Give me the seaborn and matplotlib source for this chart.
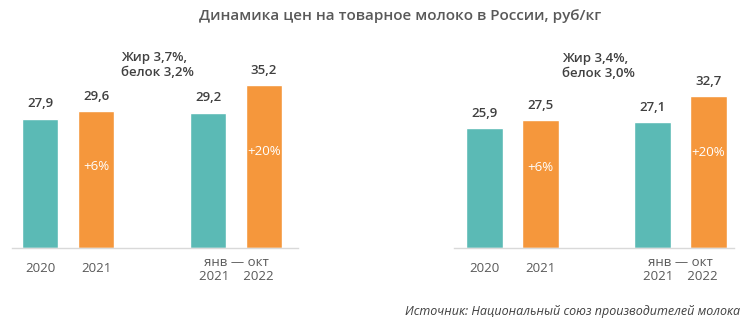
import matplotlib
matplotlib.use("Agg")
import matplotlib.pyplot as plt
import seaborn as sns
import pandas as pd

sns.set_theme(style="white")
plt.rcParams['font.family'] = ['Open Sans', 'DejaVu Sans']

# ---- data ----
positions = [0, 1, 3, 4]
groups = ["base", "cur", "base", "cur"]
left_values = [27.9, 29.6, 29.2, 35.2]
right_values = [25.9, 27.5, 27.1, 32.7]
left_growth = ["+6%", "+20%"]
right_growth = ["+6%", "+20%"]
tick_labels = ["2020", "2021"]
period_label = "янв — окт\n2021    2022"
left_note = "Жир 3,7%,\nбелок 3,2%"
right_note = "Жир 3,4%,\nбелок 3,0%"
title = "Динамика цен на товарное молоко в России, руб/кг"
source = "Источник: Национальный союз производителей молока"

TEAL = "#5BBAB5"
ORANGE = "#F5973C"
TXT = "#404040"
GRAY = "#595959"

W, H = 751, 321
fig = plt.figure(figsize=(W / 100, H / 100), dpi=100)

def fx(px):
    return px / W

def fy(py):
    return 1 - py / H

scale = 4.64  # px per unit
ymax = 40
ax_h = ymax * scale
base_px = 248

def make_panel(left_px, xlim, values, growth, frac):
    width_px = (xlim[1] - xlim[0]) * 56
    ax = fig.add_axes([fx(left_px), fy(base_px), fx(width_px), ax_h / H])
    df = pd.DataFrame({"pos": positions, "val": values, "grp": groups})
    sns.barplot(data=df, x="pos", y="val", hue="grp",
                palette={"base": TEAL, "cur": ORANGE},
                native_scale=True, width=0.66, dodge=False,
                legend=False, ax=ax, saturation=1)
    ax.set_xlim(*xlim)
    ax.set_ylim(0, ymax)
    for s in ["top", "right", "left"]:
        ax.spines[s].set_visible(False)
    ax.spines["bottom"].set_color("#D9D9D9")
    ax.spines["bottom"].set_linewidth(1.0)
    ax.set_yticks([])
    ax.set_xlabel("")
    ax.set_ylabel("")
    ax.set_xticks([0, 1])
    ax.set_xticklabels(tick_labels, fontsize=9.5, color=GRAY)
    ax.tick_params(axis="x", length=0, pad=10)
    ax.annotate(period_label, xy=(3.5, 0), xycoords="data",
                xytext=(0, -15.5), textcoords="offset points",
                ha="center", va="center", fontsize=9.5, color=GRAY,
                linespacing=1.1)
    for p, v in zip(positions, values):
        ax.annotate(f"{v:.1f}".replace(".", ","), xy=(p, v),
                    xytext=(0, 10.5), textcoords="offset points",
                    ha="center", va="center", fontsize=9.5, color=TXT,
                    fontweight="semibold")
    for p, v, g in zip([1, 4], [values[1], values[3]], growth):
        ax.text(p, v * frac, g, ha="center", va="center",
                fontsize=9.5, color="white")
    return ax

make_panel(12, (-0.5, 4.6), left_values, left_growth, 0.59)
make_panel(453.7, (-0.55, 4.45), right_values, right_growth, 0.63)

fig.text(fx(121), fy(65), left_note, ha="left", va="center",
         fontsize=9.5, color=TXT, fontweight="semibold", linespacing=1.25)
fig.text(fx(562), fy(66), right_note, ha="left", va="center",
         fontsize=9.5, color=TXT, fontweight="semibold", linespacing=1.25)

fig.text(fx(400), fy(16), title, ha="center", va="center",
         fontsize=11, color=GRAY, fontweight="semibold")
fig.text(fx(740), fy(311), source, ha="right", va="center",
         fontsize=9, color=TXT, style="italic")

fig.savefig("out.png", dpi=100)
